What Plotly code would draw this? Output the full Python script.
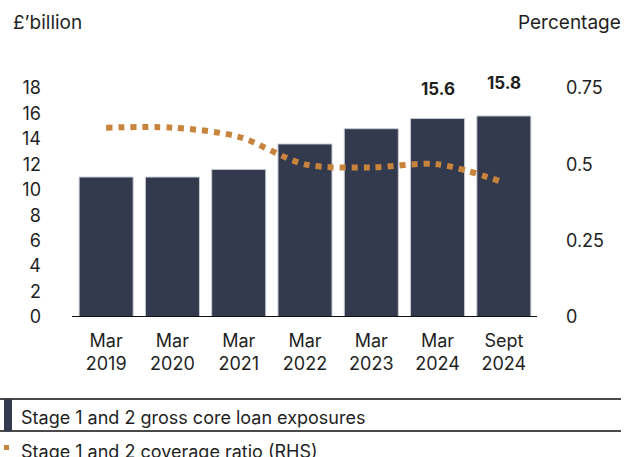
import plotly.graph_objects as go

# Reporting dates (two-line tick labels)
periods = ["Mar<br>2019", "Mar<br>2020", "Mar<br>2021", "Mar<br>2022",
           "Mar<br>2023", "Mar<br>2024", "Sept<br>2024"]
# Stage 1 and 2 gross core loan exposures, £bn
exposures = [11.0, 11.0, 11.6, 13.6, 14.8, 15.6, 15.8]
# Stage 1 and 2 coverage ratio, % (right-hand scale)
coverage = [0.62, 0.62, 0.59, 0.50, 0.49, 0.50, 0.44]
# Periods whose exposure value is printed above the bar
labelled = ["Mar<br>2024", "Sept<br>2024"]

left_ticks = [0, 2, 4, 6, 8, 10, 12, 14, 16, 18]
right_ticks = [0, 0.25, 0.5, 0.75]
right_tick_text = ["0", "0.25", "0.5", "0.75"]

bar_name = "Stage 1 and 2 gross core loan exposures"
line_name = "Stage 1 and 2 coverage ratio (RHS)"

W, H = 625, 457
ML, MR, MT, MB = 73, 88, 88, 140
FONT = "Inter, Roboto, sans-serif"
TXT = "#1f1f1f"
NAVY = "#333a4d"
ORANGE = "#c8843c"


def px_x(p):
    return (p - ML) / (W - ML - MR)


def px_y(p):
    return (H - MB - p) / (H - MT - MB)


fig = go.Figure()

fig.add_trace(go.Bar(
    x=periods, y=exposures, name=bar_name,
    marker=dict(color=NAVY, line=dict(color="#c5c9d2", width=1)),
    yaxis="y", showlegend=False,
))

fig.add_trace(go.Scatter(
    x=periods, y=coverage, name=line_name, mode="lines",
    line=dict(color=ORANGE, width=6, dash="6px,6px", shape="spline", smoothing=0.9),
    yaxis="y2", showlegend=False,
))

# Bold value labels above the latest two bars
label_shift = {"Mar<br>2024": 30, "Sept<br>2024": 33}
for cat in labelled:
    v = exposures[periods.index(cat)]
    fig.add_annotation(
        x=cat, y=v, xref="x", yref="y", text=f"<b>{v:.1f}</b>",
        showarrow=False, yanchor="middle", yshift=label_shift[cat],
        font=dict(family=FONT, size=17, color=TXT),
    )

# Axis unit titles
fig.add_annotation(x=px_x(11), y=px_y(22), xref="paper", yref="paper",
                   text="£’billion", showarrow=False, xanchor="left", yanchor="middle",
                   font=dict(family=FONT, size=19, color=TXT))
fig.add_annotation(x=px_x(623), y=px_y(22), xref="paper", yref="paper",
                   text="Percentage", showarrow=False, xanchor="right", yanchor="middle",
                   font=dict(family=FONT, size=19, color=TXT))

# Baseline
fig.add_shape(type="line", xref="paper", yref="y", x0=px_x(72), x1=px_x(537), y0=0, y1=0,
              line=dict(color="#111111", width=2))

# Legend block beneath the chart
for yy in (399, 431):
    fig.add_shape(type="line", xref="paper", yref="paper",
                  x0=px_x(0), x1=px_x(621), y0=px_y(yy), y1=px_y(yy),
                  line=dict(color="#4a4a4a", width=2))
fig.add_shape(type="rect", xref="paper", yref="paper",
              x0=px_x(4), x1=px_x(12), y0=px_y(431), y1=px_y(399),
              fillcolor=NAVY, line=dict(width=0))
fig.add_shape(type="rect", xref="paper", yref="paper",
              x0=px_x(4), x1=px_x(9), y0=px_y(450), y1=px_y(445),
              fillcolor=ORANGE, line=dict(width=0))
fig.add_annotation(x=px_x(19), y=px_y(417), xref="paper", yref="paper",
                   text=bar_name, showarrow=False, xanchor="left", yanchor="middle",
                   font=dict(family=FONT, size=18, color=TXT))
fig.add_annotation(x=px_x(19), y=px_y(451), xref="paper", yref="paper",
                   text=line_name, showarrow=False, xanchor="left", yanchor="middle",
                   font=dict(family=FONT, size=18, color=TXT))

fig.update_layout(
    width=W, height=H,
    margin=dict(l=ML, r=MR, t=MT, b=MB, pad=0),
    paper_bgcolor="white", plot_bgcolor="white",
    bargap=0.185,
    font=dict(family=FONT, size=18, color=TXT),
    xaxis=dict(showgrid=False, zeroline=False, showline=False, ticks="",
               tickfont=dict(family=FONT, size=18, color=TXT), ticklabelstandoff=11),
    yaxis=dict(range=[0, 18], tickvals=left_ticks, showgrid=False, zeroline=False,
               showline=False, ticks="", ticklabelstandoff=31,
               tickfont=dict(family=FONT, size=18, color=TXT)),
    yaxis2=dict(range=[0, 0.75], tickvals=right_ticks, ticktext=right_tick_text,
                overlaying="y", side="right", showgrid=False, zeroline=False,
                showline=False, ticks="", ticklabelstandoff=28,
                tickfont=dict(family=FONT, size=18, color=TXT)),
    showlegend=False,
)

fig.write_html("out.html")
